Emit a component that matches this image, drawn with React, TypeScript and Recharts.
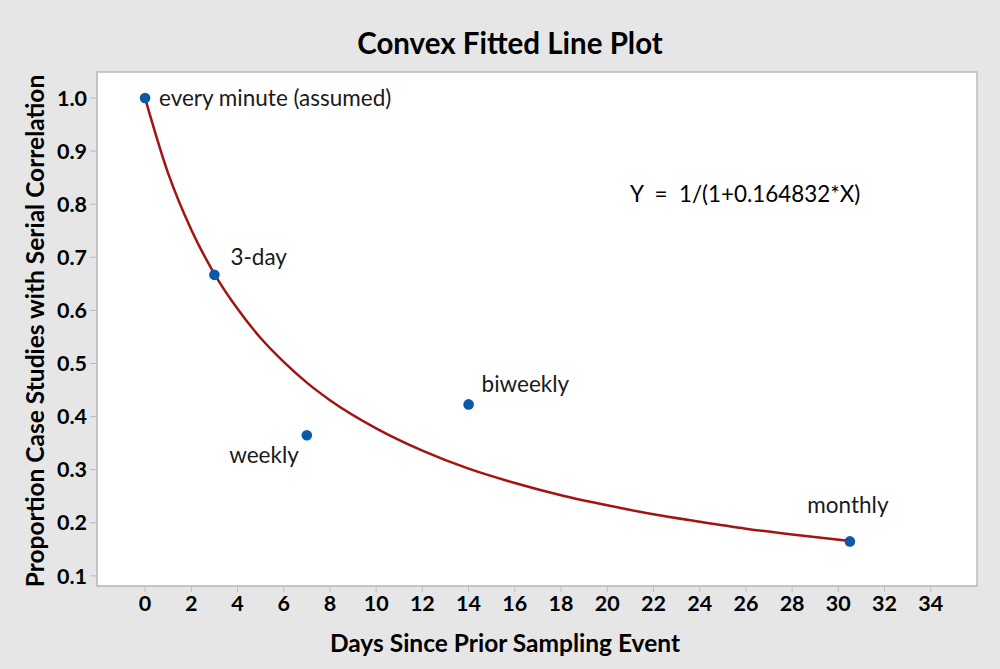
import {
  ComposedChart,
  Line,
  Scatter,
  XAxis,
  YAxis,
  ReferenceArea,
  Label,
} from "recharts";

// observed points
const sampleDays = [0, 3, 7, 14, 30.5];
const sampleProportions = [1.0, 0.667, 0.365, 0.423, 0.165];
const sampleNames = ["every minute (assumed)", "3-day", "weekly", "biweekly", "monthly"];

// fitted curve
const fitDays = [0, 1, 2, 3, 4, 5, 6, 7, 8, 10, 12, 14, 16, 18, 20, 22, 24, 26, 28, 30.5];
const fitValues = [
  1.0, 0.858, 0.752, 0.669, 0.603, 0.548, 0.503, 0.464, 0.431, 0.378, 0.336, 0.302,
  0.275, 0.252, 0.233, 0.216, 0.202, 0.189, 0.178, 0.166,
];

const xTicks = [0, 2, 4, 6, 8, 10, 12, 14, 16, 18, 20, 22, 24, 26, 28, 30, 32, 34];
const yTicks = [0.1, 0.2, 0.3, 0.4, 0.5, 0.6, 0.7, 0.8, 0.9, 1.0];

const X_DOMAIN: [number, number] = [-2.08, 36];
const Y_DOMAIN: [number, number] = [0.081, 1.049];

const FONT = "Lato, 'Open Sans', sans-serif";

// label placement relative to each point (dx, dy, anchor)
const labelOffsets: [number, number, string][] = [
  [14, 8, "start"],
  [16, -10, "start"],
  [-8, 28, "end"],
  [13, -12, "start"],
  [-2, -28, "middle"],
];

const points = sampleDays.map((x, i) => ({ x, y: sampleProportions[i], name: sampleNames[i], idx: i }));
const fitData = fitDays.map((x, i) => ({ x, y: fitValues[i] }));

function PointShape(props: any) {
  const { cx, cy, payload } = props;
  const [dx, dy, anchor] = labelOffsets[payload.idx];
  return (
    <g>
      <circle cx={cx} cy={cy} r={5.3} fill="#0b5aa8" />
      <text
        x={cx + dx}
        y={cy + dy}
        textAnchor={anchor as any}
        fontFamily={FONT}
        fontSize={22.5}
        fill="#1a1a1a"
      >
        {payload.name}
      </text>
    </g>
  );
}

export default function App() {
  return (
    <div
      style={{
        position: "absolute",
        left: 0,
        top: 0,
        width: 1000,
        height: 669,
        background: "#e6e6e6",
        fontFamily: FONT,
      }}
    >
      <div
        style={{
          position: "absolute",
          top: 25,
          left: 0,
          width: 1020,
          textAlign: "center",
          fontSize: 29.5,
          fontWeight: 700,
          color: "#000",
        }}
      >
        Convex Fitted Line Plot
      </div>
      <ComposedChart
        width={1000}
        height={669}
        margin={{ top: 72, right: 23, bottom: 0, left: 0 }}
        style={{ position: "absolute", left: 0, top: 0 }}
      >
        <XAxis
          type="number"
          dataKey="x"
          domain={X_DOMAIN}
          ticks={xTicks}
          allowDataOverflow
          height={83}
          tickSize={6}
          tickMargin={4}
          stroke="#bdbdbd"
          tick={{ fill: "#000", fontSize: 21.5, fontWeight: 700, fontFamily: FONT }}
        >
          <Label
            value="Days Since Prior Sampling Event"
            position="insideBottom"
            offset={17}
            dx={-32}
            style={{ fill: "#000", fontSize: 24.5, fontWeight: 700, fontFamily: FONT }}
          />
        </XAxis>
        <YAxis
          type="number"
          dataKey="y"
          domain={Y_DOMAIN}
          ticks={yTicks}
          allowDataOverflow
          width={97}
          tickSize={7}
          tickMargin={3}
          stroke="#bdbdbd"
          tickFormatter={(v: number) => v.toFixed(1)}
          tick={{ fill: "#000", fontSize: 21.5, fontWeight: 700, fontFamily: FONT }}
        >
          <Label
            value="Proportion Case Studies with Serial Correlation"
            angle={-90}
            position="center"
            dx={-13}
            dy={2}
            style={{ fill: "#000", fontSize: 24.5, fontWeight: 700, fontFamily: FONT, textAnchor: "middle" }}
          />
        </YAxis>
        <ReferenceArea
          x1={X_DOMAIN[0]}
          x2={X_DOMAIN[1]}
          y1={Y_DOMAIN[0]}
          y2={Y_DOMAIN[1]}
          fill="#ffffff"
          fillOpacity={1}
          stroke="#bdbdbd"
          strokeWidth={1.5}
        />
        <Line
          data={fitData}
          dataKey="y"
          type="monotone"
          stroke="#a01414"
          strokeWidth={2.5}
          dot={false}
          activeDot={false}
          isAnimationActive={false}
        />
        <Scatter data={points} dataKey="y" shape={<PointShape />} isAnimationActive={false} />
      </ComposedChart>
      <div
        style={{
          position: "absolute",
          left: 630,
          top: 180,
          fontSize: 22.4,
          color: "#000",
          whiteSpace: "pre",
        }}
      >
        {"Y  =  1/(1+0.164832*X)"}
      </div>
    </div>
  );
}
